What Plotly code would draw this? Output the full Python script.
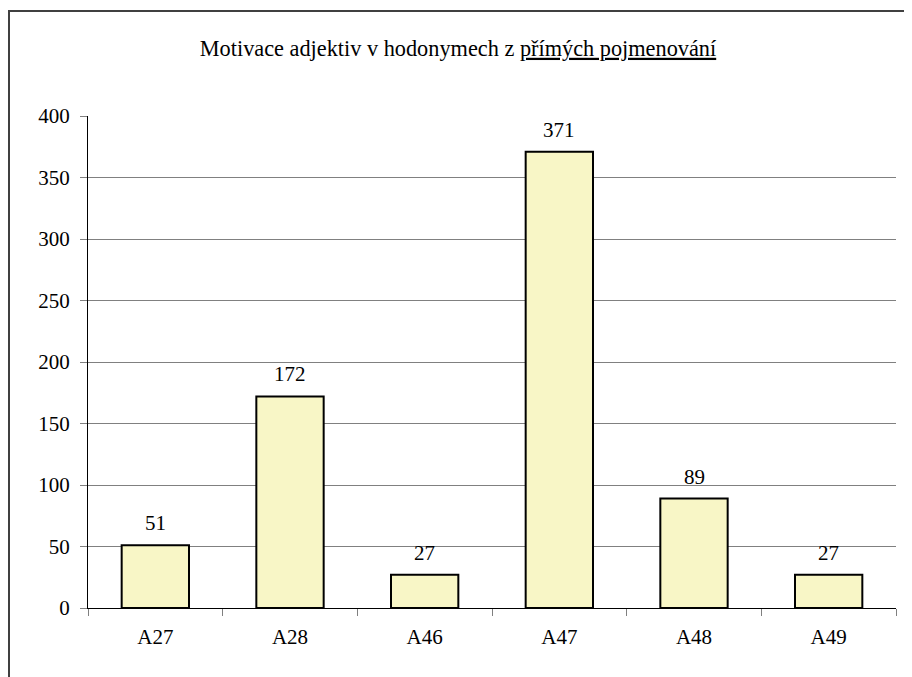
import plotly.graph_objects as go

categories = ["A27", "A28", "A46", "A47", "A48", "A49"]
values = [51, 172, 27, 371, 89, 27]

# page body adds an 8px offset; the figure sits at (8, 8)
W, H = 904, 669
L, T = 80, 108
pw, ph = 808, 492
R = W - L - pw
B = H - T - ph

FAM = "Times New Roman, Liberation Serif, DejaVu Serif, serif"
font = dict(family=FAM, size=21, color="black")

fig = go.Figure()
fig.add_trace(go.Bar(
    x=categories, y=values,
    marker=dict(color="#F8F6C6", line=dict(color="black", width=2)),
    width=0.5,
    hoverinfo="skip",
))

for c, v in zip(categories, values):
    fig.add_annotation(x=c, y=v, text=str(v), showarrow=False,
                       yanchor="bottom", yshift=8, font=font)

# outer chart border
fig.add_shape(type="rect", xref="paper", yref="paper",
              x0=(1 - L) / pw, x1=(W + 20 - L) / pw,
              y0=(ph + T - (H + 20)) / ph, y1=(ph + T - 3) / ph,
              line=dict(color="#404040", width=2), fillcolor="rgba(0,0,0,0)",
              layer="below")

fig.update_layout(
    width=W, height=H,
    margin=dict(l=L, r=R, t=T, b=B),
    paper_bgcolor="white", plot_bgcolor="white",
    font=font,
    showlegend=False,
    title=dict(
        text='Motivace adjektiv v hodonymech z <span style="text-decoration:underline">přímých pojmenování</span>',
        x=(458 - 8) / W, xanchor="center", y=1 - (48 - 8) / H, yanchor="middle",
        font=dict(family=FAM, size=22.3, color="black"),
    ),
    xaxis=dict(
        type="category", showline=True, linecolor="black", linewidth=1,
        ticks="outside", tickson="boundaries", ticklen=7, tickcolor="#808080",
        showgrid=False, tickfont=font, ticklabelstandoff=10,
    ),
    yaxis=dict(
        range=[0, 400], dtick=50, showline=True, linecolor="black", linewidth=1,
        ticks="outside", ticklen=7, tickcolor="#808080",
        showgrid=True, gridcolor="#808080", gridwidth=1,
        tickfont=font, zeroline=False, ticklabelstandoff=6,
    ),
)

fig.write_html("out.html")
